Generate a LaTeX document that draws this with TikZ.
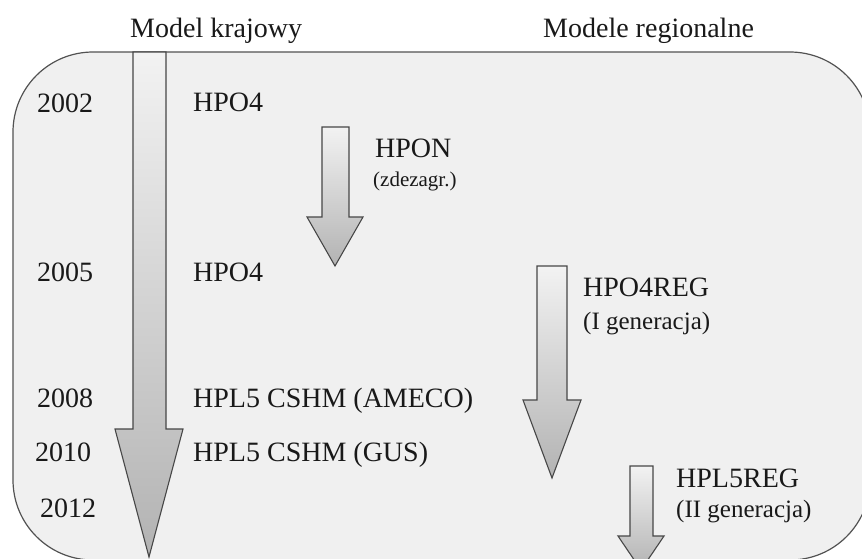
\documentclass[tikz,border=0pt]{standalone}
\usepackage{fontspec}
\setmainfont{Liberation Serif}
\begin{document}
\begin{tikzpicture}[x=1pt,y=-1pt,
  big/.style={font=\fontsize{28}{30}\selectfont, inner sep=0pt, anchor=base west, text=black!90},
  mid/.style={font=\fontsize{25}{27}\selectfont, inner sep=0pt, anchor=base west, text=black!90},
  small/.style={font=\fontsize{21}{23}\selectfont, inner sep=0pt, anchor=base west, text=black!90},
  blockarrow/.style={draw=black!72, line width=1.1pt, line join=miter, top color=black!5, bottom color=black!30},
  panel/.style={draw=black!68, line width=1.2pt, fill=black!6, rounded corners=80pt}]
\useasboundingbox (0,0) rectangle (862,558);
\clip (0,0) rectangle (862,558);
% panel
\draw[panel] (13,52) rectangle (870,560);
% headers
\node[big] (hk) at (130,37) {Model krajowy};
\node[big] (hr) at (543,37) {Modele regionalne};
% big national arrow
\draw[blockarrow] (133,52) -- (166,52) -- (166,429) -- (183,429) -- (149,557) -- (115,429) -- (133,429) -- cycle;
% HPON arrow
\draw[blockarrow] (322,127) -- (349,127) -- (349,217) -- (363,217) -- (335,266) -- (307,217) -- (322,217) -- cycle;
% HPO4REG arrow
\draw[blockarrow] (537,266) -- (567,266) -- (567,400) -- (581,400) -- (552,478) -- (523,400) -- (537,400) -- cycle;
% HPL5REG arrow
\draw[blockarrow] (630,466) -- (653,466) -- (653,536) -- (664,536) -- (641,570) -- (618,536) -- (630,536) -- cycle;
% years
\node[big] (y02) at (37,112) {2002};
\node[big] (y05) at (37,281) {2005};
\node[big] (y08) at (37,407) {2008};
\node[big] (y10) at (35,461) {2010};
\node[big] (y12) at (40,517) {2012};
% national models
\node[big] (m02) at (193,111) {HPO4};
\node[big] (m05) at (193,281) {HPO4};
\node[big] (m08) at (193,407) {HPL5 CSHM (AMECO)};
\node[big] (m10) at (193,461) {HPL5 CSHM (GUS)};
% regional / disaggregated
\node[big] (hpon) at (375,157) {HPON};
\node[small] (hpons) at (373,186) {(zdezagr.)};
\node[big] (r1) at (583,296) {HPO4REG};
\node[mid] (r1s) at (583,329) {(I generacja)};
\node[big] (r2) at (676,487) {HPL5REG};
\node[mid] (r2s) at (676,517) {(II generacja)};
\end{tikzpicture}
\end{document}
